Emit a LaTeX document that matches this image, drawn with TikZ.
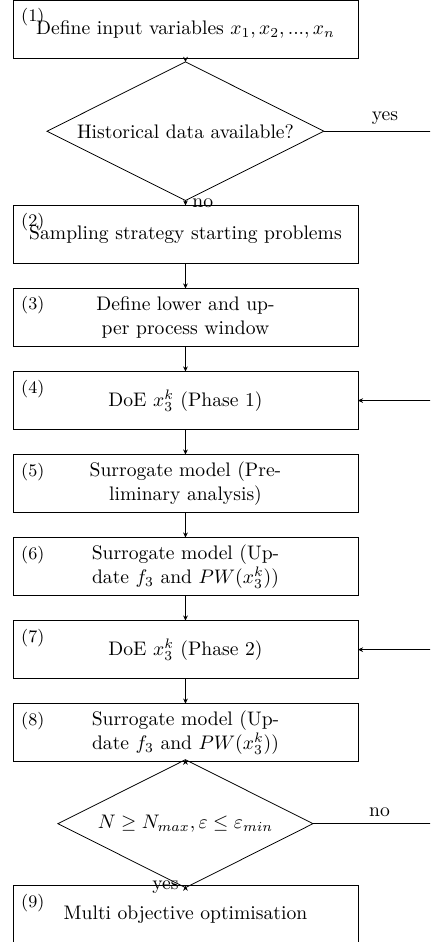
\documentclass[tikz,border=0pt]{standalone}
\usepackage{amsmath,amssymb}
\usetikzlibrary{arrows.meta,positioning,shapes.geometric}

\begin{document}
\begin{tikzpicture}[>={Stealth[length=2.6pt,width=2.4pt]},node distance=12.76pt,
  b/.style={draw,align=center,outer sep=0pt,minimum width=176pt,minimum height=29.6pt},
  d/.style={draw,diamond,aspect=2,inner sep=0pt,outer sep=0pt},
  n/.style={label={[anchor=north west,inner sep=4pt,font=\small]north west:(#1)}}]
  \useasboundingbox (-94.63pt,15pt) rectangle ++(219.4pt,-480.6pt);
  \clip (-94.63pt,15pt) rectangle ++(219.4pt,-480.6pt);
  \node[b,n=1](s1){Define input variables $x_1, x_2, ..., x_n$};
  \node[d,minimum width=141.3pt,minimum height=70.7pt,below=1.79pt of s1](q1){Historical data available?};
  \node[b,n=2,below=2.55pt of q1](s2){Sampling strategy starting problems};
  \node[b,n=3,below=of s2](s3){Define lower and up-\\per process window};
  \node[b,n=4,below=of s3](s4){DoE $x_3^k$ (Phase 1)};
  \node[b,n=5,below=of s4](s5){Surrogate model (Pre-\\liminary analysis)};
  \node[b,n=6,below=of s5](s6){Surrogate model (Up-\\date $f_3$ and $PW(x_3^k)$)};
  \node[b,n=7,below=of s6](s7){DoE $x_3^k$ (Phase 2)};
  \node[b,n=8,below=of s7](s8){Surrogate model (Up-\\date $f_3$ and $PW(x_3^k)$)};
  \node[d,minimum width=130.1pt,minimum height=65.3pt,below=-1.02pt of s8](q2){$N\geq N_{max}, \varepsilon\leq\varepsilon_{min}$};
  \node[b,n=9,below=-1.02pt of q2](s9){Multi objective optimisation};
  \coordinate[right=44.9pt of s1.east](r);
  \draw[->](s1)--(q1);\draw[->](q1)--node[right]{no}(s2);
  \draw[->](s2)--(s3);\draw[->](s3)--(s4);\draw[->](s4)--(s5);\draw[->](s5)--(s6);\draw[->](s6)--(s7);\draw[->](s7)--(s8);
  \draw[->](s8)--(q2);\draw[->](q2)--node[left]{yes}(s9);
  \draw[->](q1.east)--node[above]{yes}(q1.east-|r)|-(s4.east);
  \draw[->](q2.east)--node[above]{no}(q2.east-|r)|-(s7.east);
\end{tikzpicture}
\end{document}
